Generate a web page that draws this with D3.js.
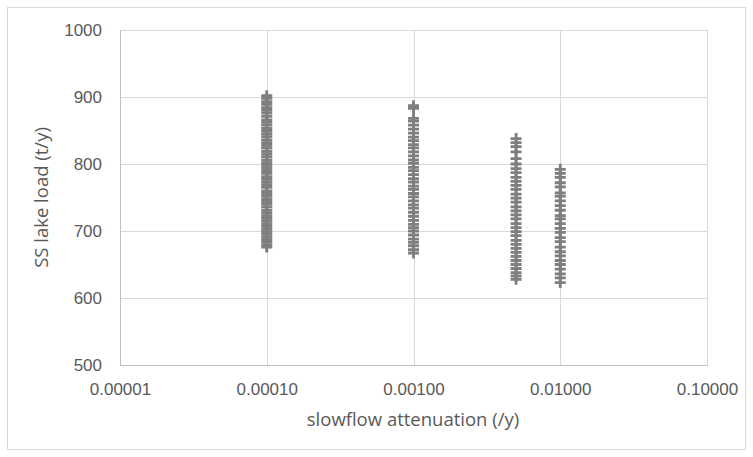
<!DOCTYPE html>
<html>
<head>
<meta charset="utf-8">
<script src="https://cdn.jsdelivr.net/npm/d3@7"></script>
<style>
  body { margin: 0; background: #fff; }
  svg { display: block; font-family: "Open Sans", "Liberation Sans", Arial, sans-serif; }
</style>
</head>
<body>
<svg id="chart" width="753" height="457"></svg>
<script>
// ---- data ----
const xValues = [0.0001, 0.001, 0.005, 0.01];
const loads0001 = [902, 898, 893, 889, 884, 880, 876, 871, 866, 862, 858, 853, 849, 845, 841, 836, 832, 828, 824, 819, 815, 811, 806, 802, 798, 794, 790, 786, 781, 777, 773, 769, 765, 760, 756, 752, 748, 744, 740, 736, 731, 727, 723, 719, 715, 711, 707, 703, 699, 695, 691, 687, 683, 679, 676];
const loads001 = [887, 883, 868, 864, 858, 852, 846, 840, 835, 829, 824, 818, 812, 806, 801, 795, 790, 784, 778, 773, 767, 762, 756, 751, 745, 739, 734, 728, 722, 716, 710, 705, 700, 694, 688, 683, 678, 672, 667];
const loads005 = [838, 832, 826, 818, 808, 800, 793, 787, 780, 774, 768, 762, 755, 749, 743, 736, 730, 724, 718, 711, 705, 699, 693, 686, 680, 674, 668, 662, 656, 650, 644, 638, 633, 628];
const loads01 = [792, 786, 780, 772, 766, 757, 752, 745, 738, 731, 723, 718, 711, 704, 698, 690, 684, 676, 669, 663, 656, 650, 643, 636, 630, 623];
const xTicks = [0.00001, 0.0001, 0.001, 0.01, 0.1];
const yTicks = [500, 600, 700, 800, 900, 1000];
const xTitle = "slowflow attenuation (/y)";
const yTitle = "SS lake load (t/y)";

const loadSets = [loads0001, loads001, loads005, loads01];
const points = [];
loadSets.forEach((arr, i) => arr.forEach(v => points.push({x: xValues[i], y: v})));

// ---- layout ----
const svg = d3.select("#chart");
const W = 753, H = 457;
const plot = {left: 120, top: 30, right: 707, bottom: 365};
const textColor = "#595959";

svg.append("rect").attr("x", 7.5).attr("y", 7.5).attr("width", W - 15).attr("height", H - 15)
  .attr("fill", "#fff").attr("stroke", "#d9d9d9").attr("stroke-width", 1);

const x = d3.scaleLog().domain([0.00001, 0.1]).range([plot.left, plot.right]);
const y = d3.scaleLinear().domain([500, 1000]).range([plot.bottom, plot.top]);

// gridlines
svg.append("g").selectAll("line").data(yTicks.filter(t => t !== 500)).join("line")
  .attr("x1", plot.left).attr("x2", plot.right)
  .attr("y1", d => Math.round(y(d)) + 0.5).attr("y2", d => Math.round(y(d)) + 0.5)
  .attr("stroke", "#d9d9d9").attr("stroke-width", 1);
svg.append("g").selectAll("line").data(xTicks.filter(t => t !== 0.00001)).join("line")
  .attr("y1", plot.top).attr("y2", plot.bottom)
  .attr("x1", d => Math.round(x(d)) + 0.5).attr("x2", d => Math.round(x(d)) + 0.5)
  .attr("stroke", "#d9d9d9").attr("stroke-width", 1);

// axis lines
svg.append("line").attr("x1", plot.left + 0.5).attr("x2", plot.left + 0.5)
  .attr("y1", plot.top).attr("y2", plot.bottom + 0.5).attr("stroke", "#bfbfbf");
svg.append("line").attr("x1", plot.left).attr("x2", plot.right + 0.5)
  .attr("y1", plot.bottom + 0.5).attr("y2", plot.bottom + 0.5).attr("stroke", "#bfbfbf");

// tick labels
const yAxis = d3.axisLeft(y).tickValues(yTicks).tickSize(0).tickPadding(18).tickFormat(d3.format("d"));
const gy = svg.append("g").attr("transform", `translate(${plot.left},0)`).call(yAxis);
gy.select(".domain").remove();
gy.selectAll("text").attr("font-size", 17).attr("fill", textColor).attr("font-family", null);

const xAxis = d3.axisBottom(x).tickValues(xTicks).tickSize(0).tickPadding(18).tickFormat(d3.format(".5f"));
const gx = svg.append("g").attr("transform", `translate(0,${plot.bottom})`).call(xAxis);
gx.select(".domain").remove();
gx.selectAll("text").attr("font-size", 17).attr("fill", textColor).attr("font-family", null);

// axis titles
svg.append("text").attr("x", 413).attr("y", 426)
  .attr("text-anchor", "middle").attr("font-size", 18.5).attr("fill", textColor).text(xTitle);
svg.append("text").attr("transform", `translate(48,${(plot.top + plot.bottom) / 2}) rotate(-90)`)
  .attr("text-anchor", "middle").attr("font-size", 18.5).attr("fill", textColor).text(yTitle);

// markers ("+" shapes)
svg.append("g").selectAll("path").data(points).join("path")
  .attr("transform", d => `translate(${x(d.x)},${y(d.y)})`)
  .attr("d", "M-5.5,0H5.5M0,-5.5V5.5")
  .attr("fill", "none").attr("stroke", "#7f7f7f").attr("stroke-width", 2.8);
</script>
</body>
</html>
